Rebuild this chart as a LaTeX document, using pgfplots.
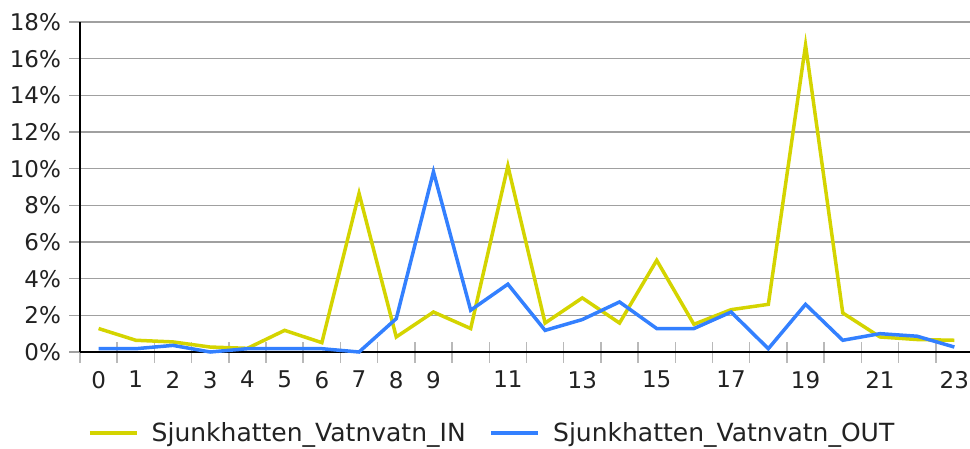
\documentclass[border=0pt]{standalone}
\usepackage{fontspec}
\setmainfont{DejaVu Sans}
\usepackage{pgfplots}
\pgfplotsset{compat=1.18}
\definecolor{cyel}{RGB}{212,212,0}
\definecolor{cblue}{RGB}{51,128,255}
\definecolor{cgrid}{RGB}{160,160,160}
\definecolor{ctick}{RGB}{185,185,185}
\definecolor{ctxt}{RGB}{34,34,34}
\begin{document}
\begin{tikzpicture}
\useasboundingbox (0,0) rectangle (970pt,448pt);
\begin{axis}[
  at={(80pt,96pt)}, anchor=south west,
  scale only axis, width=890pt, height=330pt,
  xmin=-0.5, xmax=23.42, ymin=0, ymax=18,
  clip=false,
  axis x line*=bottom, axis y line*=left,
  axis line style={-, black, line width=2pt},
  xtick pos=left, ytick pos=left,
  tick align=center,
  major tick length=21pt,
  xtick style={ctick, line width=1.5pt},
  ytick style={cgrid, line width=1.5pt},
  xtick={-0.5,0.5,...,22.5},
  xticklabels={0,1,2,3,4,5,6,7,8,9,,11,,13,,15,,17,,19,,21,,23},
  x tick label style={xshift=18.6pt, yshift=-5pt},
  y tick label style={xshift=-5pt},
  ytick={0,2,...,18},
  yticklabels={0\%,2\%,4\%,6\%,8\%,10\%,12\%,14\%,16\%,18\%},
  ymajorgrids, grid style={cgrid, line width=1.5pt},
  every tick label/.append style={font=\fontsize{23}{27}\selectfont, text=ctxt},
  legend columns=2,
  legend style={at={(0.009,-0.245)}, anchor=west, draw=none, fill=none, inner sep=0pt,
    font=\fontsize{25}{29}\selectfont, text=ctxt,
    /tikz/every odd column/.append style={column sep=13pt},
    /tikz/every even column/.append style={column sep=24pt},
    nodes={inner sep=0pt}},
  legend image code/.code={\draw[#1] (0pt,0pt) -- (47pt,0pt);},
]
\addplot[cyel, line width=3.5pt] coordinates {
(0,1.28) (1,0.64) (2,0.55) (3,0.27) (4,0.2) (5,1.18) (6,0.51) (7,8.65)
(8,0.82) (9,2.18) (10,1.28) (11,10.15) (12,1.58) (13,2.95) (14,1.58) (15,5.0)
(16,1.51) (17,2.31) (18,2.6) (19,16.74) (20,2.13) (21,0.82) (22,0.68) (23,0.64)};
\addlegendentry{Sjunkhatten\_Vatnvatn\_IN}
\addplot[cblue, line width=3.5pt] coordinates {
(0,0.18) (1,0.18) (2,0.36) (3,0.0) (4,0.18) (5,0.18) (6,0.18) (7,0.0)
(8,1.82) (9,9.83) (10,2.28) (11,3.70) (12,1.18) (13,1.77) (14,2.73) (15,1.28)
(16,1.28) (17,2.18) (18,0.18) (19,2.6) (20,0.64) (21,1.0) (22,0.86) (23,0.27)};
\addlegendentry{Sjunkhatten\_Vatnvatn\_OUT}
\end{axis}
\end{tikzpicture}
\end{document}
